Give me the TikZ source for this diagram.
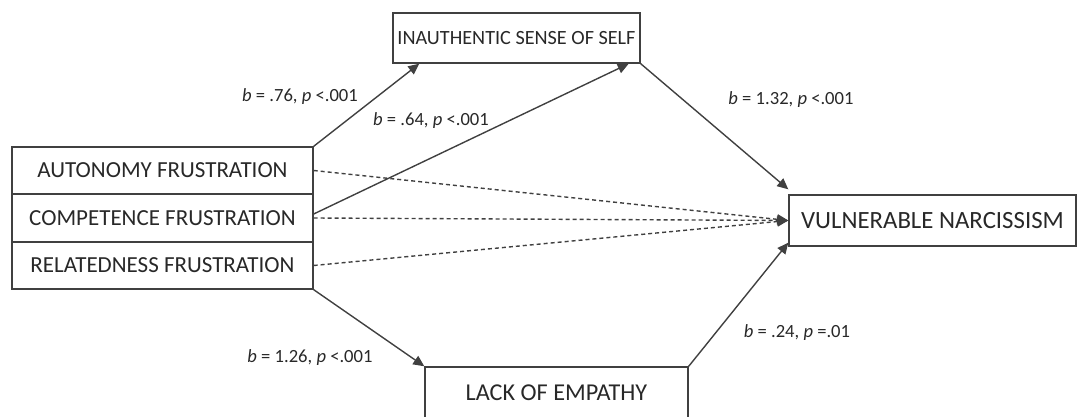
\documentclass[tikz,border=0pt]{standalone}
\usepackage{fontspec}
\setmainfont{Carlito}
\usepackage{tikz}
\usetikzlibrary{arrows.meta,positioning}
\definecolor{LineGray}{RGB}{64,64,64}
\definecolor{TextGray}{RGB}{40,40,40}

\begin{document}
\begin{tikzpicture}[x=0.5pt, y=-0.5pt,
 varbox/.style={draw=LineGray, line width=0.7pt, minimum height=23.5pt, align=center, text=TextGray, font=\fontsize{11.5}{13}\selectfont, inner sep=0pt},
 coef/.style={text=TextGray, font=\fontsize{9.3}{11}\selectfont, inner sep=1pt},
 path/.style={draw=LineGray, line width=0.7pt, -{Triangle[length=5.5pt,width=5pt]}},
 direct/.style={path, dash pattern=on 2pt off 1.5pt}
]
\useasboundingbox (0,0) rectangle (1084,417);

\node[varbox, minimum width=150.5pt] (auto)   at (162.5,170.5) {AUTONOMY FRUSTRATION};
\node[varbox, minimum width=150.5pt] (comp)   at (162.5,218)   {COMPETENCE FRUSTRATION};
\node[varbox, minimum width=150.5pt] (rel)    at (162.5,265.5) {RELATEDNESS FRUSTRATION};
\node[varbox, minimum width=123.5pt, minimum height=25pt, font=\fontsize{10.1}{12}\selectfont] (inauth) at (516.5,38) {INAUTHENTIC SENSE OF SELF};
\node[varbox, minimum width=143.5pt, minimum height=25.5pt, font=\fontsize{12.4}{14}\selectfont] (vn) at (932.5,220.5) {VULNERABLE NARCISSISM};
\node[varbox, minimum width=131.5pt, minimum height=25.5pt, font=\fontsize{12.1}{14}\selectfont] (lack) at (556.5,392.5) {LACK OF EMPATHY};

\node[coef] (c76)  at (300,97)  {\textit{b} = .76, \textit{p} <.001};
\node[coef] (c64)  at (431,121) {\textit{b} = .64, \textit{p} <.001};
\node[coef] (c132) at (791,100) {\textit{b} = 1.32, \textit{p} <.001};
\node[coef] (c126) at (310,358) {\textit{b} = 1.26, \textit{p} <.001};
\node[coef] (c24)  at (797,333) {\textit{b} = .24, \textit{p} =.01};

\draw[path] (auto.north east) -- ([xshift=13.5pt]inauth.south west);
\draw[path] ([yshift=2pt]comp.east) -- ([xshift=-6pt]inauth.south east);
\draw[path] (inauth.south east) -- ([yshift=2.5pt]vn.north west);
\draw[path] (rel.south east) -- (lack.north west);
\draw[path] (lack.north east) -- ([yshift=2pt]vn.south west);

\draw[direct] (auto.east) -- (vn.west);
\draw[direct] (comp.east) -- (vn.west);
\draw[direct] (rel.east) -- (vn.west);
\end{tikzpicture}
\end{document}
